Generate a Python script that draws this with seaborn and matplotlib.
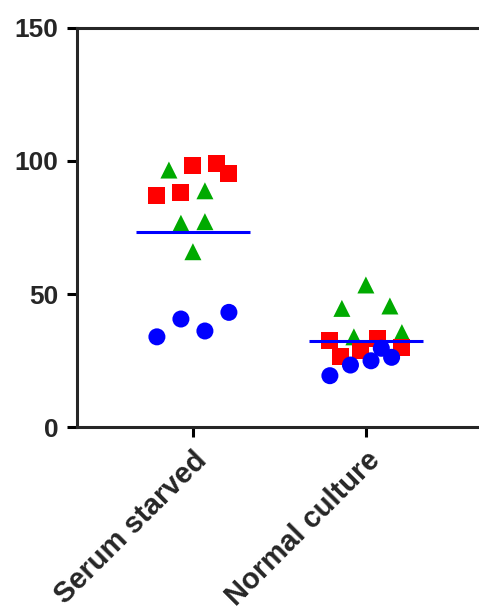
import matplotlib
matplotlib.use("Agg")
import matplotlib.pyplot as plt
import numpy as np
import pandas as pd
import seaborn as sns

groups = ['Serum starved', 'Normal culture']
series = ['Exp 1', 'Exp 2', 'Exp 3']

# values, per group and per series
serum_exp1 = [40.6, 33.9, 36.1, 43.1]
serum_exp2 = [95.4, 99.1, 98.2, 88.1, 87.2]
serum_exp3 = [96.6, 88.8, 76.6, 77.2, 65.9]
normal_exp1 = [29.6, 24.9, 19.3, 23.3, 26.2]
normal_exp2 = [32.7, 26.4, 28.9, 30.0, 33.3]
normal_exp3 = [53.4, 44.6, 45.5, 33.9, 35.5]

colors = {'Exp 1': '#0000FF', 'Exp 2': '#FF0000', 'Exp 3': '#00AA00'}
markers = {'Exp 1': 'o', 'Exp 2': 's', 'Exp 3': '^'}

rows = []
for s, vals in [('Exp 1', serum_exp1), ('Exp 2', serum_exp2), ('Exp 3', serum_exp3)]:
    rows += [(groups[0], s, v) for v in vals]
for s, vals in [('Exp 1', normal_exp1), ('Exp 2', normal_exp2), ('Exp 3', normal_exp3)]:
    rows += [(groups[1], s, v) for v in vals]
df = pd.DataFrame(rows, columns=['group', 'series', 'value'])

sns.set_style("ticks")
plt.rcParams['font.family'] = ['Liberation Sans', 'DejaVu Sans']
plt.rcParams['font.weight'] = 'bold'

fig = plt.figure(figsize=(4.79, 6.11), dpi=100)
pos = [0.1608, 0.3011, 0.845, 0.6531]
xlim = (-0.67, 1.67)
ax = fig.add_axes(pos)

# column scatter: points close in value share a row and get spread sideways
px = (xlim[1] - xlim[0]) / (pos[2] * fig.get_figwidth() * fig.dpi)  # data units per pixel
row_span, row_gap = 12.0, 8.0
df['x'] = 0.0
for i, g in enumerate(groups):
    sub = df[df['group'] == g].sort_values('value')
    chunks, row, start, prev = [], [], None, None
    for k, v in sub['value'].items():
        if start is None or v - start > row_span or v - prev > row_gap:
            if row:
                chunks.append(row)
            row, start = [], v
        row.append(k)
        prev = v
    chunks.append(row)
    for row in chunks:
        n = len(row)
        step = min(24, 72 / max(n - 1, 1)) * px
        slots = (np.arange(n) - (n - 1) / 2) * step
        # every other slot first so neighbouring values don't pile up
        slots = list(slots[::2]) + list(slots[1::2])
        for k, o in zip(row, slots):
            df.at[k, 'x'] = i + o

# triangles under squares, circles on top
draw_order = {'Exp 3': 0, 'Exp 2': 1, 'Exp 1': 2}
df = df.sort_values('series', key=lambda c: c.map(draw_order), kind='stable')

sns.scatterplot(data=df, x='x', y='value', hue='series', style='series',
                palette=colors, markers=markers, s=150, linewidth=0,
                legend=False, ax=ax, zorder=3)

means = df.groupby('group')['value'].mean().reindex(groups)
idx = np.arange(len(groups))
ax.hlines(means.values, idx - 0.33, idx + 0.33, color='#0000FF', lw=2.2, zorder=4)

ax.set_ylim(0, 150)
ax.set_xlim(*xlim)
ax.set_yticks([0, 50, 100, 150])
ax.set_xticks(idx)
ax.set_xticklabels(groups, rotation=45, ha='right', rotation_mode='anchor')
ax.set_xlabel('')
ax.set_ylabel('')
ax.spines['right'].set_visible(False)
for sp in ['left', 'top', 'bottom']:
    ax.spines[sp].set_linewidth(2.2)
ax.tick_params(axis='both', direction='out', length=7, width=2.2, pad=6.5, color='black')
ax.tick_params(axis='y', labelsize=19)
ax.tick_params(axis='x', labelsize=21)
for lab in ax.get_xticklabels() + ax.get_yticklabels():
    lab.set_fontweight('bold')

fig.savefig('out.png', dpi=100)
